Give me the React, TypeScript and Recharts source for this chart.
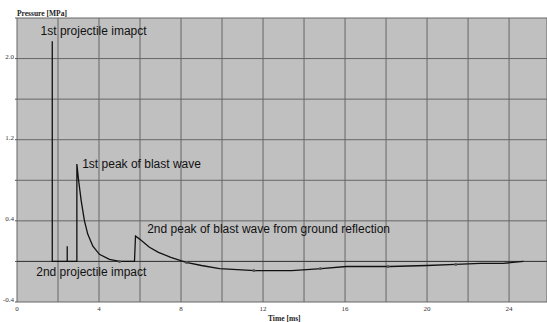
import { ComposedChart, Line, Scatter, XAxis, YAxis, CartesianGrid, ReferenceLine, ReferenceDot } from "recharts"

// curve (time in ms, pressure in MPa)
const times = [
  1.72, 1.72, 1.72, 2.45, 2.45, 2.45, 2.92, 2.92, 3.01, 3.13, 3.29, 3.45, 3.7, 4.02, 4.51, 5.0, 5.73, 5.78,
  5.98, 6.46, 6.9, 7.5, 8.25, 9.0, 9.88, 11.6, 13.4, 14.84, 16.06, 17.2, 18.2, 20.0, 21.4, 22.6, 23.7, 24.7,
]
const pressures = [
  0, 2.17, 0, 0, 0.15, 0, 0, 0.96, 0.79, 0.6, 0.4, 0.27, 0.15, 0.07, 0.02, 0.0, 0.0, 0.25,
  0.22, 0.14, 0.09, 0.04, -0.01, -0.04, -0.07, -0.09, -0.09, -0.07, -0.05, -0.05, -0.05, -0.04, -0.03, -0.02, -0.02, 0.0,
]

// small sample markers along the tail
const markTimes = [5.0, 8.27, 11.55, 14.8, 18.1, 21.4]
const markPressures = [0.0, -0.01, -0.09, -0.07, -0.05, -0.03]

const xTicks = [0, 2, 4, 6, 8, 10, 12, 14, 16, 18, 20, 22, 24]
const yTicks = [-0.4, 0, 0.4, 0.8, 1.2, 1.6, 2.0, 2.4]

const noteTexts = [
  "1st projectile imapct",
  "1st peak of blast wave",
  "2nd peak of blast wave from ground reflection",
  "2nd projectile impact",
]
const noteTimes = [1.15, 3.18, 6.35, 0.94]
const notePressures = [2.27, 0.96, 0.32, -0.105]

const curve = times.map((t, i) => ({ t, p: pressures[i] }))
const marks = markTimes.map((t, i) => ({ t, p: markPressures[i] }))

const serif = "'Liberation Serif', 'Times New Roman', serif"
const sans = "'Liberation Sans', Arial, sans-serif"

export default function App() {
  return (
    <div style={{ position: "absolute", left: 0, top: 0, width: 547, height: 322, background: "#fff" }}>
      <ComposedChart width={547} height={322} data={curve} margin={{ top: 18, right: 0, left: 0, bottom: 0 }}>
        <CartesianGrid fill="#c0c0c0" stroke="#666" strokeWidth={1} />
        <XAxis
          dataKey="t"
          type="number"
          domain={[0, 25.85]}
          ticks={xTicks}
          allowDataOverflow
          height={20}
          axisLine={false}
          tickLine={false}
          tickSize={0}
          tickMargin={4}
          tickFormatter={(v: number) => (v % 4 === 0 ? String(v) : "")}
          tick={{ fontSize: 7, fill: "#333", fontFamily: serif }}
        />
        <YAxis
          type="number"
          domain={[-0.4, 2.4]}
          ticks={yTicks}
          width={17}
          axisLine={false}
          tickSize={2}
          tickMargin={1}
          tickLine={{ stroke: "#555" }}
          tickFormatter={(v: number) => (Math.round((v + 0.4) * 10) % 8 === 0 ? v.toFixed(1) : "")}
          tick={{ fontSize: 7, fill: "#333", fontFamily: serif, dy: -2 }}
        />
        <ReferenceLine y={0} stroke="#3a3a3a" strokeWidth={1} />
        <Line
          dataKey="p"
          type="linear"
          stroke="#111"
          strokeWidth={1.3}
          dot={false}
          isAnimationActive={false}
        />
        <Scatter
          data={marks}
          dataKey="p"
          fill="#444"
          isAnimationActive={false}
          shape={(props: any) => <circle cx={props.cx} cy={props.cy} r={1.5} fill="#555" />}
        />
        {noteTexts.map((text, i) => (
          <ReferenceDot
            key={text}
            x={noteTimes[i]}
            y={notePressures[i]}
            r={0}
            fill="none"
            stroke="none"
            ifOverflow="visible"
            label={{ value: text, position: "right", offset: 0, fill: "#111", fontSize: 12, fontFamily: sans }}
          />
        ))}
      </ComposedChart>
      <div
        style={{
          position: "absolute",
          left: 17,
          top: 9,
          fontFamily: serif,
          fontWeight: "bold",
          fontSize: 7.5,
          color: "#222",
          lineHeight: "10px",
          whiteSpace: "nowrap",
        }}
      >
        Pressure [MPa]
      </div>
      <div
        style={{
          position: "absolute",
          left: 268,
          top: 314,
          fontFamily: serif,
          fontWeight: "bold",
          fontSize: 7.5,
          color: "#222",
          lineHeight: "10px",
          whiteSpace: "nowrap",
        }}
      >
        Time [ms]
      </div>
    </div>
  )
}
